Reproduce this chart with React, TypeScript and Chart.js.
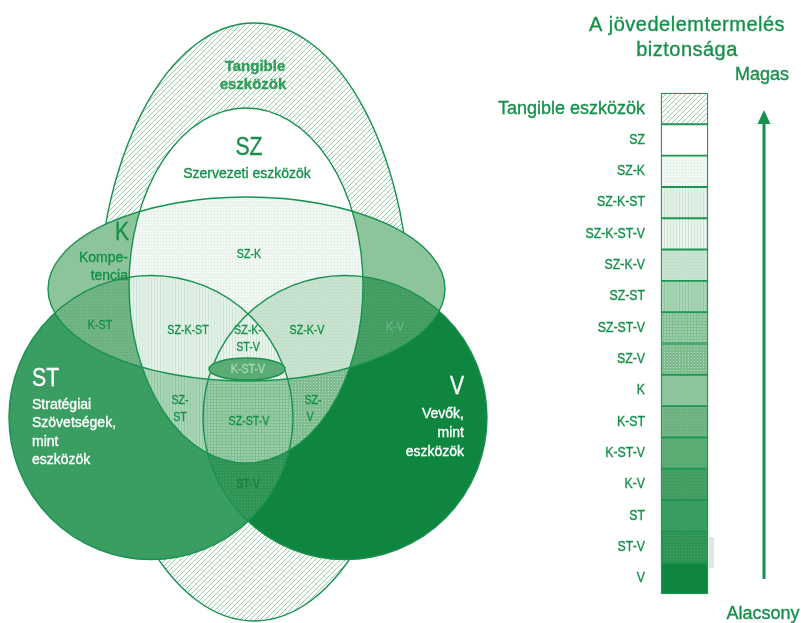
import React, { useEffect, useRef } from 'react';
import { Chart, registerables } from 'chart.js';

Chart.register(...registerables);

const GREEN = '#16904a';
const LINE = '#199150';
const FONT = '"Liberation Sans", Arial, sans-serif';

// Venn sets (chart units): Tangible, SZ, K, ST, V
const setKeys = ['T', 'SZ', 'K', 'ST', 'V'];
const setCx = [254, 246, 246.5, 151, 345];
const setCy = [322, 285.5, 289, 417.5, 417.5];
const setRx = [157, 117, 198.5, 142, 142];
const setRy = [299, 177.5, 92, 142, 142];

// inner K-ST-V ellipse
const coreCx = 247;
const coreCy = 369;
const coreRx = 38;
const coreRy = 11;

// regions (legend order, top = highest security)
const regionNames = ['Tangible', 'SZ', 'SZ-K', 'SZ-K-ST', 'SZ-K-ST-V', 'SZ-K-V', 'SZ-ST', 'SZ-ST-V', 'SZ-V', 'K', 'K-ST', 'K-ST-V', 'K-V', 'ST', 'ST-V', 'V'];
const regionKind = ['hatch', 'solid', 'dots', 'vstripe', 'vstripe', 'dots', 'vstripe', 'grid', 'dots', 'solid', 'dots', 'solid', 'dots', 'solid', 'dots', 'solid'];
const regionBase = ['#ffffff', '#ffffff', '#f0f7f2', '#e4f1e8', '#e9f4ec', '#c7e2ce', '#aad4b6', '#9acda8', '#7fbd91', '#8cc49c', '#71b486', '#5aab74', '#46a065', '#3a9d62', '#2f9455', '#0e863f'];
const regionTexture = ['#86c69b', '#ffffff', '#d6eadc', '#cde5d4', '#cfe6d6', '#b6d9c0', '#92c8a2', '#80bf93', '#b3dabf', '#8cc49c', '#5ca876', '#5aab74', '#36965a', '#3a9d62', '#45a468', '#0e863f'];

// legend
const legendLabels = ['Tangible eszközök', 'SZ', 'SZ-K', 'SZ-K-ST', 'SZ-K-ST-V', 'SZ-K-V', 'SZ-ST', 'SZ-ST-V', 'SZ-V', 'K', 'K-ST', 'K-ST-V', 'K-V', 'ST', 'ST-V', 'V'];
const legendX = 684.5;
const legendTop = 93;
const legendBottom = 594;

// Venn text labels: text, x, y, style, align
const vennText = ['Tangible', 'eszközök', 'SZ', 'Szervezeti eszközök', 'K', 'Kompe-', 'tencia', 'SZ-K', 'K-ST', 'SZ-K-ST', 'SZ-K-', 'ST-V', 'SZ-K-V', 'K-V', 'K-ST-V', 'SZ-', 'ST', 'SZ-ST-V', 'SZ-', 'V', 'ST-V', 'ST', 'Stratégiai', 'Szövetségek,', 'mint', 'eszközök', 'V', 'Vevők,', 'mint', 'eszközök'];
const vennX = [255, 253, 249, 247, 122, 128, 128, 249, 100, 188, 248, 248, 307, 395, 248, 180, 180, 249, 313, 310, 248, 32, 32, 32, 32, 32, 457, 464, 464, 464];
const vennY = [67, 85, 148, 174, 233, 258, 276, 254, 325, 330, 330, 347, 330, 327, 369, 400, 417, 421, 400, 417, 484, 379, 405, 423, 442, 460, 387, 414, 433, 452];
const vennStyle = ['tang', 'tang', 'big', 'med', 'big', 'med', 'med', 'small', 'small', 'small', 'small', 'small', 'small', 'kv', 'core', 'small', 'small', 'small', 'small', 'small', 'stv', 'bigW', 'medW', 'medW', 'medW', 'medW', 'bigW', 'medW', 'medW', 'medW'];
const vennAlign = ['center', 'center', 'center', 'center', 'center', 'right', 'right', 'center', 'center', 'center', 'center', 'center', 'center', 'center', 'center', 'center', 'center', 'center', 'center', 'center', 'center', 'left', 'left', 'left', 'left', 'left', 'center', 'right', 'right', 'right'];

const styles: any = {
  tang: { font: `bold 15px ${FONT}`, color: '#2f9c58', sx: 1 },
  big: { font: `25px ${FONT}`, color: GREEN, sx: 0.85 },
  med: { font: `14px ${FONT}`, color: GREEN, sx: 1 },
  small: { font: `13px ${FONT}`, color: GREEN, sx: 0.82 },
  kv: { font: `13px ${FONT}`, color: '#6cb483', sx: 0.82 },
  stv: { font: `13px ${FONT}`, color: '#1b7f41', sx: 0.82 },
  core: { font: `13px ${FONT}`, color: '#a8d8b6', sx: 0.82 },
  bigW: { font: `25px ${FONT}`, color: '#ffffff', sx: 0.85 },
  medW: { font: `14px ${FONT}`, color: '#ffffff', sx: 1 },
};

function makePattern(kind: string, base: string, tex: string): any {
  if (kind === 'solid') return base;
  const t = document.createElement('canvas');
  const s = kind === 'hatch' ? 5 : 3;
  t.width = s;
  t.height = s;
  const c = t.getContext('2d')!;
  c.fillStyle = base;
  c.fillRect(0, 0, s, s);
  c.fillStyle = tex;
  c.strokeStyle = tex;
  if (kind === 'hatch') {
    c.lineWidth = 0.9;
    c.beginPath();
    c.moveTo(-1, s + 1);
    c.lineTo(s + 1, -1);
    c.moveTo(-1, 1);
    c.lineTo(1, -1);
    c.moveTo(s - 1, s + 1);
    c.lineTo(s + 1, s - 1);
    c.stroke();
  } else if (kind === 'dots') {
    c.fillRect(1, 1, 1, 1);
  } else if (kind === 'vstripe') {
    c.fillRect(1, 0, 1, 3);
  } else if (kind === 'grid') {
    c.fillRect(0, 0, 3, 1);
    c.fillRect(0, 0, 1, 3);
  }
  return document.createElement('canvas').getContext('2d')!.createPattern(t, 'repeat');
}

export default function App() {
  const ref = useRef<HTMLCanvasElement>(null);

  useEffect(() => {
    const canvas = ref.current!;
    const patterns = regionNames.map((_, i) => makePattern(regionKind[i], regionBase[i], regionTexture[i]));
    const step = (legendBottom - legendTop) / legendLabels.length;

    const drawText = (ctx: any, text: string, x: number, y: number, font: string, color: string, align: string, sx: number, spacing = '0px') => {
      ctx.save();
      ctx.font = font;
      ctx.fillStyle = color;
      ctx.strokeStyle = color;
      ctx.lineWidth = 0.35;
      ctx.textAlign = align;
      ctx.textBaseline = 'middle';
      try { ctx.letterSpacing = spacing; } catch (e) {}
      ctx.translate(x, y);
      ctx.scale(sx, 1);
      ctx.fillText(text, 0, 0);
      ctx.strokeText(text, 0, 0);
      ctx.restore();
    };

    const vennPlugin = {
      id: 'venn',
      beforeDatasetsDraw(chart: any) {
        const ctx = chart.ctx;
        const xs = chart.scales.x;
        const ys = chart.scales.y;
        const px = (v: number) => xs.getPixelForValue(v);
        const py = (v: number) => ys.getPixelForValue(v);
        const W = chart.width;
        const H = chart.height;
        const ell = (i: number) => {
          ctx.ellipse(px(setCx[i]), py(setCy[i]), Math.abs(px(setCx[i] + setRx[i]) - px(setCx[i])), Math.abs(py(setCy[i] + setRy[i]) - py(setCy[i])), 0, 0, Math.PI * 2);
        };
        ctx.save();
        ctx.fillStyle = '#ffffff';
        ctx.fillRect(0, 0, W, H);

        // tangible ellipse
        ctx.beginPath();
        ell(0);
        ctx.fillStyle = patterns[0];
        ctx.fill();
        ctx.strokeStyle = LINE;
        ctx.lineWidth = 1.4;
        ctx.stroke();

        // regions of SZ, K, ST, V
        const members = ['SZ', 'K', 'ST', 'V'];
        for (let m = 1; m < 16; m++) {
          const inside: string[] = [];
          ctx.save();
          for (let b = 0; b < 4; b++) {
            const idx = b + 1;
            ctx.beginPath();
            if (m & (1 << b)) {
              inside.push(members[b]);
              ell(idx);
              ctx.clip();
            } else {
              ctx.rect(0, 0, W, H);
              ell(idx);
              ctx.clip('evenodd');
            }
          }
          const name = inside.join('-');
          const ri = regionNames.indexOf(name);
          ctx.fillStyle = ri >= 0 ? patterns[ri] : '#ffffff';
          ctx.fillRect(0, 0, W, H);
          ctx.restore();
        }

        // outlines
        ctx.strokeStyle = LINE;
        ctx.lineWidth = 1.4;
        for (let i = 1; i < 5; i++) {
          ctx.beginPath();
          ell(i);
          ctx.stroke();
        }

        // inner K-ST-V ellipse
        ctx.beginPath();
        ctx.ellipse(px(coreCx), py(coreCy), Math.abs(px(coreCx + coreRx) - px(coreCx)), Math.abs(py(coreCy + coreRy) - py(coreCy)), 0, 0, Math.PI * 2);
        ctx.fillStyle = patterns[regionNames.indexOf('K-ST-V')];
        ctx.fill();
        ctx.stroke();
        ctx.restore();

        // labels
        vennText.forEach((t, i) => {
          const st = styles[vennStyle[i]];
          drawText(ctx, t, px(vennX[i]), py(vennY[i]), st.font, st.color, vennAlign[i], st.sx);
        });

        // faint scan artefact beside the ST-V legend cell
        ctx.save();
        ctx.fillStyle = '#dde9e0';
        ctx.fillRect(px(709), py(537), px(714) - px(709), py(568) - py(537));
        ctx.restore();
      },
      afterDatasetsDraw(chart: any) {
        const ctx = chart.ctx;
        const xs = chart.scales.x;
        const ys = chart.scales.y;
        const px = (v: number) => xs.getPixelForValue(v);
        const py = (v: number) => ys.getPixelForValue(v);

        // legend labels
        legendLabels.forEach((l, i) => {
          const y = py(legendTop + (i + 0.5) * step);
          if (i === 0) drawText(ctx, l, px(645), y, `18px ${FONT}`, GREEN, 'right', 1);
          else drawText(ctx, l, px(645), y, `14px ${FONT}`, GREEN, 'right', 0.88);
        });

        // titles
        drawText(ctx, 'A jövedelemtermelés', px(687), py(25), `20px ${FONT}`, GREEN, 'center', 1, '0.5px');
        drawText(ctx, 'biztonsága', px(687), py(50), `20px ${FONT}`, GREEN, 'center', 1, '0.5px');
        drawText(ctx, 'Magas', px(762), py(75), `18px ${FONT}`, GREEN, 'center', 1);
        drawText(ctx, 'Alacsony', px(763), py(614), `18px ${FONT}`, GREEN, 'center', 1);

        // arrow
        ctx.save();
        ctx.strokeStyle = GREEN;
        ctx.fillStyle = GREEN;
        ctx.lineWidth = 3;
        ctx.beginPath();
        ctx.moveTo(px(764), py(579));
        ctx.lineTo(px(764), py(120));
        ctx.stroke();
        ctx.beginPath();
        ctx.moveTo(px(764), py(110));
        ctx.lineTo(px(757.5), py(124));
        ctx.lineTo(px(770.5), py(124));
        ctx.closePath();
        ctx.fill();
        ctx.restore();
      },
    };

    const chart = new Chart(canvas, {
      type: 'bar',
      data: {
        datasets: [
          {
            data: legendLabels.map((_, i) => ({ x: legendX, y: [legendTop + i * step, legendTop + (i + 1) * step] })) as any,
            backgroundColor: patterns,
            borderColor: '#1f9653',
            borderWidth: 1.3,
            borderSkipped: false,
            barThickness: 47,
          } as any,
        ],
      },
      options: {
        animation: false,
        responsive: true,
        maintainAspectRatio: false,
        layout: { padding: 0 },
        events: [],
        scales: {
          x: { type: 'linear', min: 0, max: 801, offset: false, display: false },
          y: { type: 'linear', min: 0, max: 623, reverse: true, offset: false, display: false },
        },
        plugins: { legend: { display: false }, tooltip: { enabled: false } },
      } as any,
      plugins: [vennPlugin],
    });
    return () => chart.destroy();
  }, []);

  return (
    <div style={{ position: 'absolute', left: 0, top: 0, width: 801, height: 623, background: '#ffffff' }}>
      <canvas ref={ref} />
    </div>
  );
}
